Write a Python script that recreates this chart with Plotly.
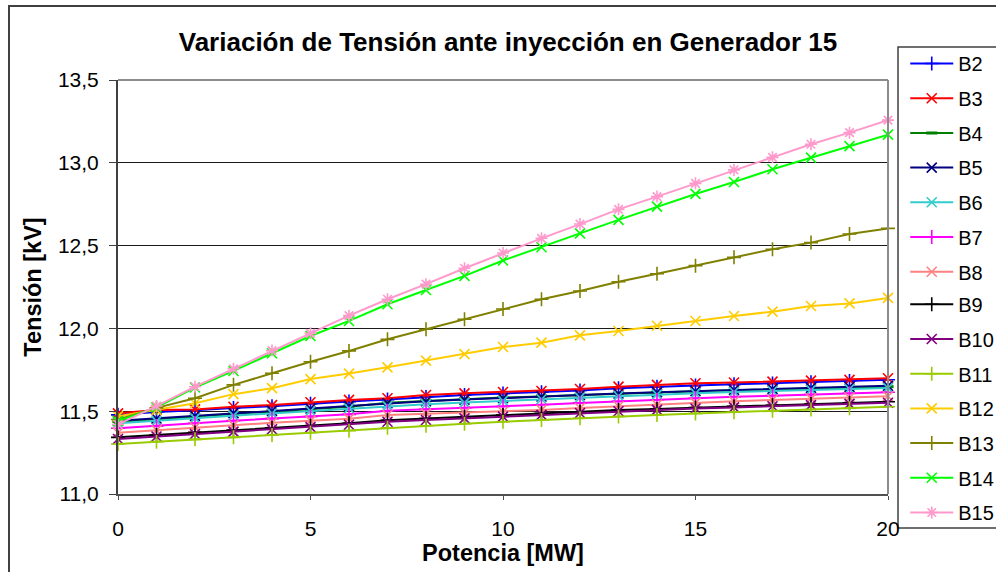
import plotly.graph_objects as go

potencia = list(range(21))

B2 = [11.478, 11.495, 11.505, 11.520, 11.530, 11.545, 11.558, 11.570, 11.585, 11.598, 11.607,
      11.615, 11.625, 11.638, 11.648, 11.655, 11.662, 11.668, 11.675, 11.682, 11.690]
B3 = [11.487, 11.507, 11.511, 11.527, 11.537, 11.554, 11.568, 11.578, 11.598, 11.608, 11.616,
      11.622, 11.634, 11.648, 11.659, 11.669, 11.673, 11.679, 11.685, 11.689, 11.699]
B4 = [11.437, 11.450, 11.467, 11.483, 11.497, 11.511, 11.527, 11.551, 11.563, 11.572, 11.582,
      11.590, 11.598, 11.608, 11.614, 11.620, 11.626, 11.631, 11.636, 11.642, 11.648]
B5 = [11.442, 11.456, 11.472, 11.488, 11.502, 11.516, 11.532, 11.548, 11.560, 11.570, 11.580,
      11.589, 11.598, 11.607, 11.615, 11.622, 11.629, 11.635, 11.641, 11.647, 11.653]
B6 = [11.427, 11.440, 11.457, 11.473, 11.487, 11.501, 11.517, 11.531, 11.542, 11.552, 11.562,
      11.572, 11.582, 11.592, 11.600, 11.608, 11.616, 11.622, 11.628, 11.634, 11.640]
B7 = [11.397, 11.410, 11.427, 11.443, 11.455, 11.467, 11.481, 11.503, 11.511, 11.519, 11.528,
      11.539, 11.550, 11.560, 11.569, 11.578, 11.587, 11.594, 11.601, 11.608, 11.614]
B8 = [11.370, 11.386, 11.402, 11.416, 11.430, 11.443, 11.455, 11.477, 11.485, 11.491, 11.497,
      11.508, 11.519, 11.530, 11.540, 11.550, 11.560, 11.568, 11.576, 11.583, 11.590]
B9 = [11.342, 11.356, 11.372, 11.386, 11.400, 11.412, 11.427, 11.445, 11.456, 11.466, 11.477,
      11.487, 11.497, 11.507, 11.514, 11.522, 11.529, 11.536, 11.543, 11.550, 11.557]
B10 = [11.332, 11.347, 11.362, 11.377, 11.391, 11.404, 11.418, 11.436, 11.447, 11.457, 11.467,
       11.478, 11.489, 11.500, 11.508, 11.516, 11.523, 11.530, 11.537, 11.544, 11.551]
B11 = [11.302, 11.316, 11.330, 11.342, 11.356, 11.370, 11.382, 11.400, 11.412, 11.424, 11.436,
       11.447, 11.457, 11.468, 11.477, 11.486, 11.494, 11.502, 11.510, 11.518, 11.527]
B12 = [11.470, 11.507, 11.548, 11.603, 11.639, 11.694, 11.727, 11.765, 11.805, 11.845, 11.888,
       11.914, 11.958, 11.984, 12.016, 12.045, 12.075, 12.101, 12.135, 12.151, 12.184]
B13 = [11.450, 11.520, 11.578, 11.659, 11.729, 11.799, 11.864, 11.934, 11.995, 12.055, 12.117,
       12.176, 12.226, 12.282, 12.330, 12.379, 12.429, 12.478, 12.518, 12.570, 12.604]
B14 = [11.440, 11.523, 11.643, 11.743, 11.850, 11.954, 12.045, 12.146, 12.232, 12.317, 12.410,
       12.490, 12.574, 12.655, 12.735, 12.812, 12.884, 12.961, 13.031, 13.101, 13.170]
B15 = [11.420, 11.531, 11.648, 11.756, 11.866, 11.970, 12.077, 12.176, 12.267, 12.363, 12.455,
       12.544, 12.630, 12.719, 12.796, 12.876, 12.957, 13.033, 13.112, 13.182, 13.258]

series_names = ["B2", "B3", "B4", "B5", "B6", "B7", "B8", "B9", "B10", "B11", "B12", "B13", "B14", "B15"]
series_values = [B2, B3, B4, B5, B6, B7, B8, B9, B10, B11, B12, B13, B14, B15]
series_colors = ["#0000FF", "#FF0000", "#008000", "#000080", "#33CCCC", "#FF00FF", "#FF8080",
                 "#000000", "#800080", "#99CC00", "#FFCC00", "#808000", "#00FF00", "#FF99CC"]
series_symbols = ["cross-thin", "x-thin", "line-ew", "x-thin", "x-thin", "cross-thin", "x-thin",
                  "cross-thin", "x-thin", "cross-thin", "x-thin", "cross-thin", "x-thin", "asterisk"]

FONT = "Arial, Liberation Sans, sans-serif"

fig = go.Figure()
for i, (name, vals, col, sym) in enumerate(zip(series_names, series_values, series_colors, series_symbols)):
    fig.add_trace(go.Scatter(
        x=potencia, y=vals, name=name, mode="lines+markers",
        line=dict(color=col, width=2),
        marker=dict(symbol=sym, size=10 if sym != "line-ew" else 8, color=col,
                    line=dict(color=col, width=3 if sym == "line-ew" else 1.6)),
        legendgroup=name, legend="legend" if i < 7 else "legend2",
        cliponaxis=False,
    ))

ITEM = 34.4
LEG_X = 1.0224
LEG_TOP = 44

legend_common = dict(x=LEG_X, xanchor="left", yanchor="top",
                     font=dict(size=20, family=FONT), bgcolor="rgba(0,0,0,0)",
                     borderwidth=0, tracegroupgap=5.7, itemwidth=43)

fig.update_layout(
    width=996, height=572,
    margin=dict(l=118, r=108, t=80, b=78, autoexpand=False),
    paper_bgcolor="white", plot_bgcolor="white",
    separators=",.",
    font=dict(family=FONT, color="black"),
    title=dict(text="<b>Variación de Tensión ante inyección en Generador 15</b>",
               x=0.51, xanchor="center", y=1 - 42 / 572, yanchor="middle",
               font=dict(size=26, family=FONT)),
    showlegend=True,
    legend=dict(y=1 + (80 - LEG_TOP) / 414, **legend_common),
    legend2=dict(y=1 + (80 - LEG_TOP - 7 * ITEM) / 414, **legend_common),
    xaxis=dict(range=[0, 20], tickmode="array", tickvals=[0, 5, 10, 15, 20],
               ticktext=["0", "5", "10", "15", "20"], automargin=False,
               showgrid=False, zeroline=False, showline=True, linecolor="#505050", linewidth=2,
               ticks="outside", ticklen=4, tickcolor="#505050", tickwidth=1,
               tickfont=dict(size=21), ticklabelstandoff=11,
               title=dict(text="<b>Potencia [MW]</b>", font=dict(size=23.5), standoff=2)),
    yaxis=dict(range=[11.0, 13.5], tickmode="array", tickvals=[11.0, 11.5, 12.0, 12.5, 13.0, 13.5],
               tickformat=".1f", automargin=False,
               showgrid=True, gridcolor="#1a1a1a", gridwidth=1, zeroline=False,
               showline=True, linecolor="#404040", linewidth=2,
               ticks="outside", ticklen=7, tickcolor="#404040", tickwidth=1,
               tickfont=dict(size=21), ticklabelstandoff=6,
               title=dict(text="<b>Tensión [kV]</b>", font=dict(size=23.5), standoff=10)),
    shapes=[
        dict(type="line", xref="paper", yref="paper", x0=0, x1=1, y0=1, y1=1,
             line=dict(color="#8c8c8c", width=2), layer="above"),
        dict(type="line", xref="paper", yref="paper", x0=1, x1=1, y0=0, y1=1,
             line=dict(color="#8c8c8c", width=2), layer="above"),
        dict(type="rect", xref="paper", yref="paper", x0=(898 - 118) / 770, x1=1.25,
             y0=(494 - 528) / 414, y1=1 + (80 - 47) / 414,
             line=dict(color="#404040", width=1.5), fillcolor="rgba(0,0,0,0)", layer="below"),
        dict(type="rect", xref="paper", yref="paper", x0=(9 - 118) / 770, x1=1.25,
             y0=-0.25, y1=1 + (80 - 6) / 414,
             line=dict(color="#404040", width=2), fillcolor="rgba(0,0,0,0)", layer="below"),
    ],
)

fig.write_html("out.html")
